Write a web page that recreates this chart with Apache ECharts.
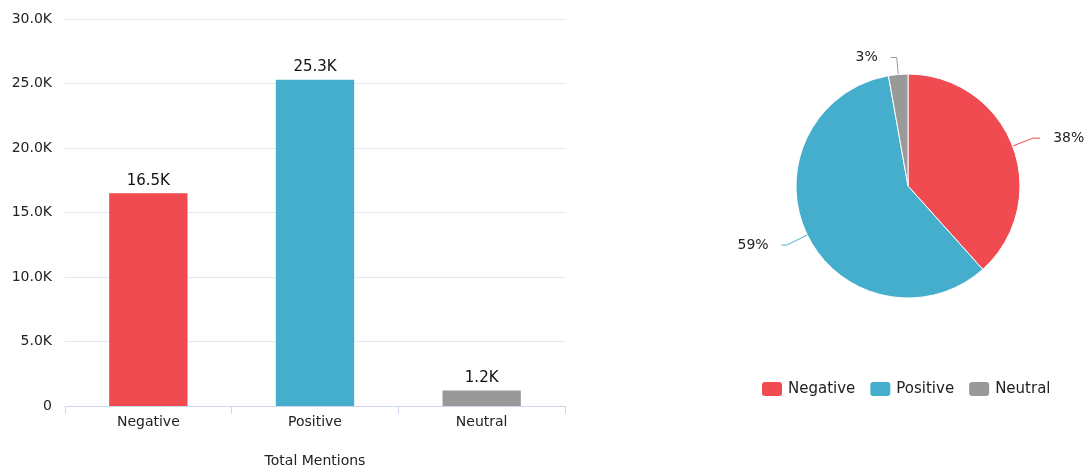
<!DOCTYPE html>
<html>
<head>
<meta charset="utf-8">
<script src="https://cdn.jsdelivr.net/npm/echarts@6/dist/echarts.min.js"></script>
<style>
html,body{margin:0;padding:0;background:#fff;}
#c{width:1085px;height:467px;}
</style>
</head>
<body>
<div id="c"></div>
<script>
const categories = ['Negative', 'Positive', 'Neutral'];
const mentions = [16500, 25300, 1200];
const colors = ['#EF4B50', '#45AECC', '#999999'];
const axisName = 'Total Mentions';

const chart = echarts.init(document.getElementById('c'));
const font = '"Lucida Grande", "DejaVu Sans", sans-serif';
const fmtK = v => v === 0 ? '0' : (v / 1000).toFixed(1) + 'K';
// per-slice connector styling (Highcharts-like)
const connector = [
  { length: 22, length2: 7 },
  { length: 23, length2: 5 },
  { length: 17, length2: 6 }
];

chart.setOption({
  animation: false,
  textStyle: { fontFamily: font },
  grid: { left: 65, right: 520, top: 19, bottom: 61, outerBoundsMode: 'none', containLabel: false },
  xAxis: {
    type: 'category',
    data: categories,
    name: axisName,
    nameLocation: 'middle',
    nameGap: 48,
    nameTextStyle: { fontSize: 14, color: '#222', fontFamily: font },
    axisLine: { lineStyle: { color: '#ccd6eb' } },
    axisTick: { show: true, length: 8, lineStyle: { color: '#ccd6eb' } },
    axisLabel: { fontSize: 14, color: '#222', margin: 9, fontFamily: font }
  },
  yAxis: {
    type: 'value',
    min: 0, max: 30000, interval: 5000,
    axisLine: { show: false },
    axisTick: { show: false },
    splitLine: { lineStyle: { color: '#e3e7f1' } },
    axisLabel: { fontSize: 14, color: '#222', margin: 13, formatter: fmtK, fontFamily: font }
  },
  legend: {
    data: categories,
    left: 755, top: 375,
    itemWidth: 22, itemHeight: 16, itemGap: 13,
    icon: 'roundRect',
    textStyle: { fontSize: 15, color: '#222', fontFamily: font }
  },
  series: [
    {
      type: 'bar',
      barWidth: '47%',
      data: mentions.map((v, i) => ({ value: v, itemStyle: { color: colors[i] } })),
      label: {
        show: true, position: 'top', distance: 5,
        fontSize: 15, color: '#111', fontFamily: font,
        formatter: p => fmtK(p.value)
      }
    },
    {
      type: 'pie',
      center: [908, 186],
      radius: 112,
      startAngle: 90,
      clockwise: true,
      percentPrecision: 0,
      data: categories.map((c, i) => ({
        name: c, value: mentions[i],
        itemStyle: { color: colors[i] },
        labelLine: connector[i]
      })),
      itemStyle: { borderColor: '#fff', borderWidth: 1 },
      label: { show: true, formatter: '{d}%', fontSize: 14, color: '#222', fontFamily: font,
               distanceToLabelLine: 13, overflow: 'none', padding: [6, 0, 0, 0] },
      labelLine: { show: true, length: 20, length2: 6 }
    }
  ]
});
</script>
</body>
</html>
